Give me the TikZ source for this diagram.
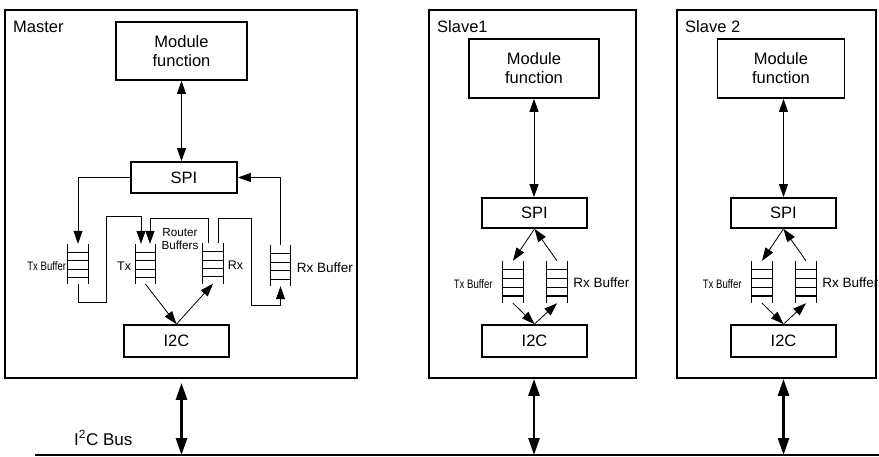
\documentclass[tikz,border=0pt]{standalone}
\usepackage{fontspec}
\setmainfont{Liberation Sans}
\newfontfamily\condfont[FakeStretch=0.78]{Liberation Sans}
\usetikzlibrary{arrows.meta,calc}
\tikzset{
 outerbox/.style={draw, line width=1.8pt, inner sep=0pt},
 blk/.style={draw, line width=1.8pt, inner sep=0pt, align=center, font=\fontsize{16.5}{19}\selectfont},
 lad/.style={inner sep=0pt, minimum width=20pt},
 rail/.style={line width=1.1pt},
 conn/.style={line width=0.8pt, -{Triangle[length=13pt,width=9pt]}},
 dconn/.style={line width=0.8pt, {Triangle[length=13pt,width=9pt]}-{Triangle[length=13pt,width=9pt]}},
 busarr/.style={line width=2.8pt, {Triangle[length=17pt,width=11pt]}-{Triangle[length=17pt,width=11pt]}},
 title/.style={anchor=base west, inner sep=0pt, font=\fontsize{16.5}{19}\selectfont},
 buflbl/.style={inner sep=0pt, font=\fontsize{13.5}{16}\selectfont},
 txlbl/.style={inner sep=0pt, font=\condfont\fontsize{12.3}{14}\selectfont},
 smlbl/.style={inner sep=0pt, font=\fontsize{12.5}{15}\selectfont},
}
\newcommand\mkladder[4]{%
  \node[lad, minimum height=#4pt] (#1) at (#2,#3) {};
  \draw[rail] (#1.north west) -- (#1.south west) (#1.north east) -- (#1.south east);
  \foreach \f in {0.21,0.42,0.63,0.83}{\draw[rail] ($(#1.north west)!\f!(#1.south west)$) -- ($(#1.north east)!\f!(#1.south east)$);}
}
\begin{document}
\begin{tikzpicture}[x=1pt,y=-1pt]
\useasboundingbox (0,0) rectangle (879,457);
% ---------------- Master
\node[outerbox, minimum width=352pt, minimum height=368pt] (m) at (181,194) {};
\node[title] (mt) at (13,33) {Master};
\node[blk, minimum width=131pt, minimum height=58pt] (mm) at (181.5,51) {Module\\function};
\node[blk, minimum width=106pt, minimum height=31pt] (ms) at (184,177.5) {SPI};
\node[blk, minimum width=105pt, minimum height=32pt] (mi) at (176.5,341) {I2C};
\draw[dconn] (mm.south) -- (mm.south |- ms.north);
\mkladder{mtb}{78}{264}{40}
\mkladder{mrt}{145.5}{264}{40}
\mkladder{mrr}{213}{263.5}{40}
\mkladder{mrb}{280.5}{265.5}{41}
\draw[conn] (ms.west) -| (mtb.north);
\draw[conn] (mtb.south) -- ++(0,18) -- ++(28,0) -- ++(0,-86) -| ([xshift=-4.5pt]mrt.north);
\draw[conn] ([xshift=-5pt]mrr.north) -- ++(0,-25) -| ([xshift=4.5pt]mrt.north);
\draw[conn] ([xshift=5pt]mrr.north) -- ++(0,-25) -- ++(33,0) -- ++(0,87) -| (mrb.south);
\draw[conn] (mrb.north) |- (ms.east);
\draw[conn] (mrt.south) -- (mi.north);
\draw[conn] (mi.north) -- (mrr.south);
\node[txlbl, anchor=east] (mtbl) at ([xshift=-1.5pt,yshift=-2pt]mtb.west) {Tx Buffer};
\node[smlbl, anchor=east] (mrtl) at ([xshift=-4pt,yshift=-2pt]mrt.west) {Tx};
\node[smlbl, anchor=west] (mrrl) at ([xshift=4.5pt,yshift=-2pt]mrr.east) {Rx};
\node[buflbl, anchor=west] (mrbl) at ([xshift=6pt,yshift=-2pt]mrb.east) {Rx Buffer};
\node[inner sep=0pt, align=center, font=\fontsize{11.7}{12.5}\selectfont] (rbuf) at (180,239) {Router\\Buffers};
% ---------------- Slave 1
\node[outerbox, minimum width=207pt, minimum height=368pt] (s1) at (532.5,194) {};
\node[title] (s1t0) at (437,33) {Slave1};
\node[blk, minimum width=130pt, minimum height=59pt] (s1m) at (534,68.5) {Module\\function};
\node[blk, minimum width=105pt, minimum height=30pt] (s1s) at (534.5,213) {SPI};
\node[blk, minimum width=105pt, minimum height=32pt] (s1i) at (534.5,341) {I2C};
\draw[dconn] (s1m.south) -- (s1m.south |- s1s.north);
\mkladder{s1t}{513}{282}{42}
\mkladder{s1r}{557}{282}{42}
\draw[conn] (s1s.south) -- (s1t.north);
\draw[conn] (s1r.north) -- (s1s.south);
\draw[conn] (s1t.south) -- (s1i.north);
\draw[conn] (s1i.north) -- (s1r.south);
\node[txlbl, anchor=east] (s1tl) at ([xshift=-10pt,yshift=-2pt]s1t.west) {Tx Buffer};
\node[buflbl, anchor=west] (s1rl) at ([xshift=6pt,yshift=-1pt]s1r.east) {Rx Buffer};
% ---------------- Slave 2
\node[outerbox, minimum width=199pt, minimum height=368pt] (s2) at (776.5,194) {};
\node[title] (s2t0) at (685,33) {Slave 2};
\node[blk, minimum width=127pt, minimum height=59pt] (s2m) at (781,68.5) {Module\\function};
\node[blk, minimum width=105pt, minimum height=30pt] (s2s) at (783.5,213) {SPI};
\node[blk, minimum width=105pt, minimum height=32pt] (s2i) at (783.5,341) {I2C};
\draw[dconn] (s2s.north -| s2m.south) ++(2.5,0) coordinate (s2a) (s2a |- s2m.south) -- (s2a);
\mkladder{s2t}{762}{282}{42}
\mkladder{s2r}{806}{282}{42}
\draw[conn] (s2s.south) -- (s2t.north);
\draw[conn] (s2r.north) -- (s2s.south);
\draw[conn] (s2t.south) -- (s2i.north);
\draw[conn] (s2i.north) -- (s2r.south);
\node[txlbl, anchor=east] (s2tl) at ([xshift=-10pt,yshift=-2pt]s2t.west) {Tx Buffer};
\node[buflbl, anchor=west] (s2rl) at ([xshift=6pt,yshift=-1pt]s2r.east) {Rx Buffer};
% ---------------- Bus
\coordinate (bl) at (35,455);
\coordinate (br) at (879,455);
\draw[line width=1.4pt] (bl) -- (br);
\node[title, font=\fontsize{17}{20}\selectfont] (bus) at (74,445) {I\textsuperscript{2}C Bus};
\draw[busarr] ($(mm.south |- m.south)+(0,4)$) -- (mm.south |- bl);
\draw[busarr] (s1m.south |- s1.south) -- (s1m.south |- bl);
\draw[busarr] (s2a |- s2.south) -- (s2a |- bl);
\end{tikzpicture}
\end{document}
